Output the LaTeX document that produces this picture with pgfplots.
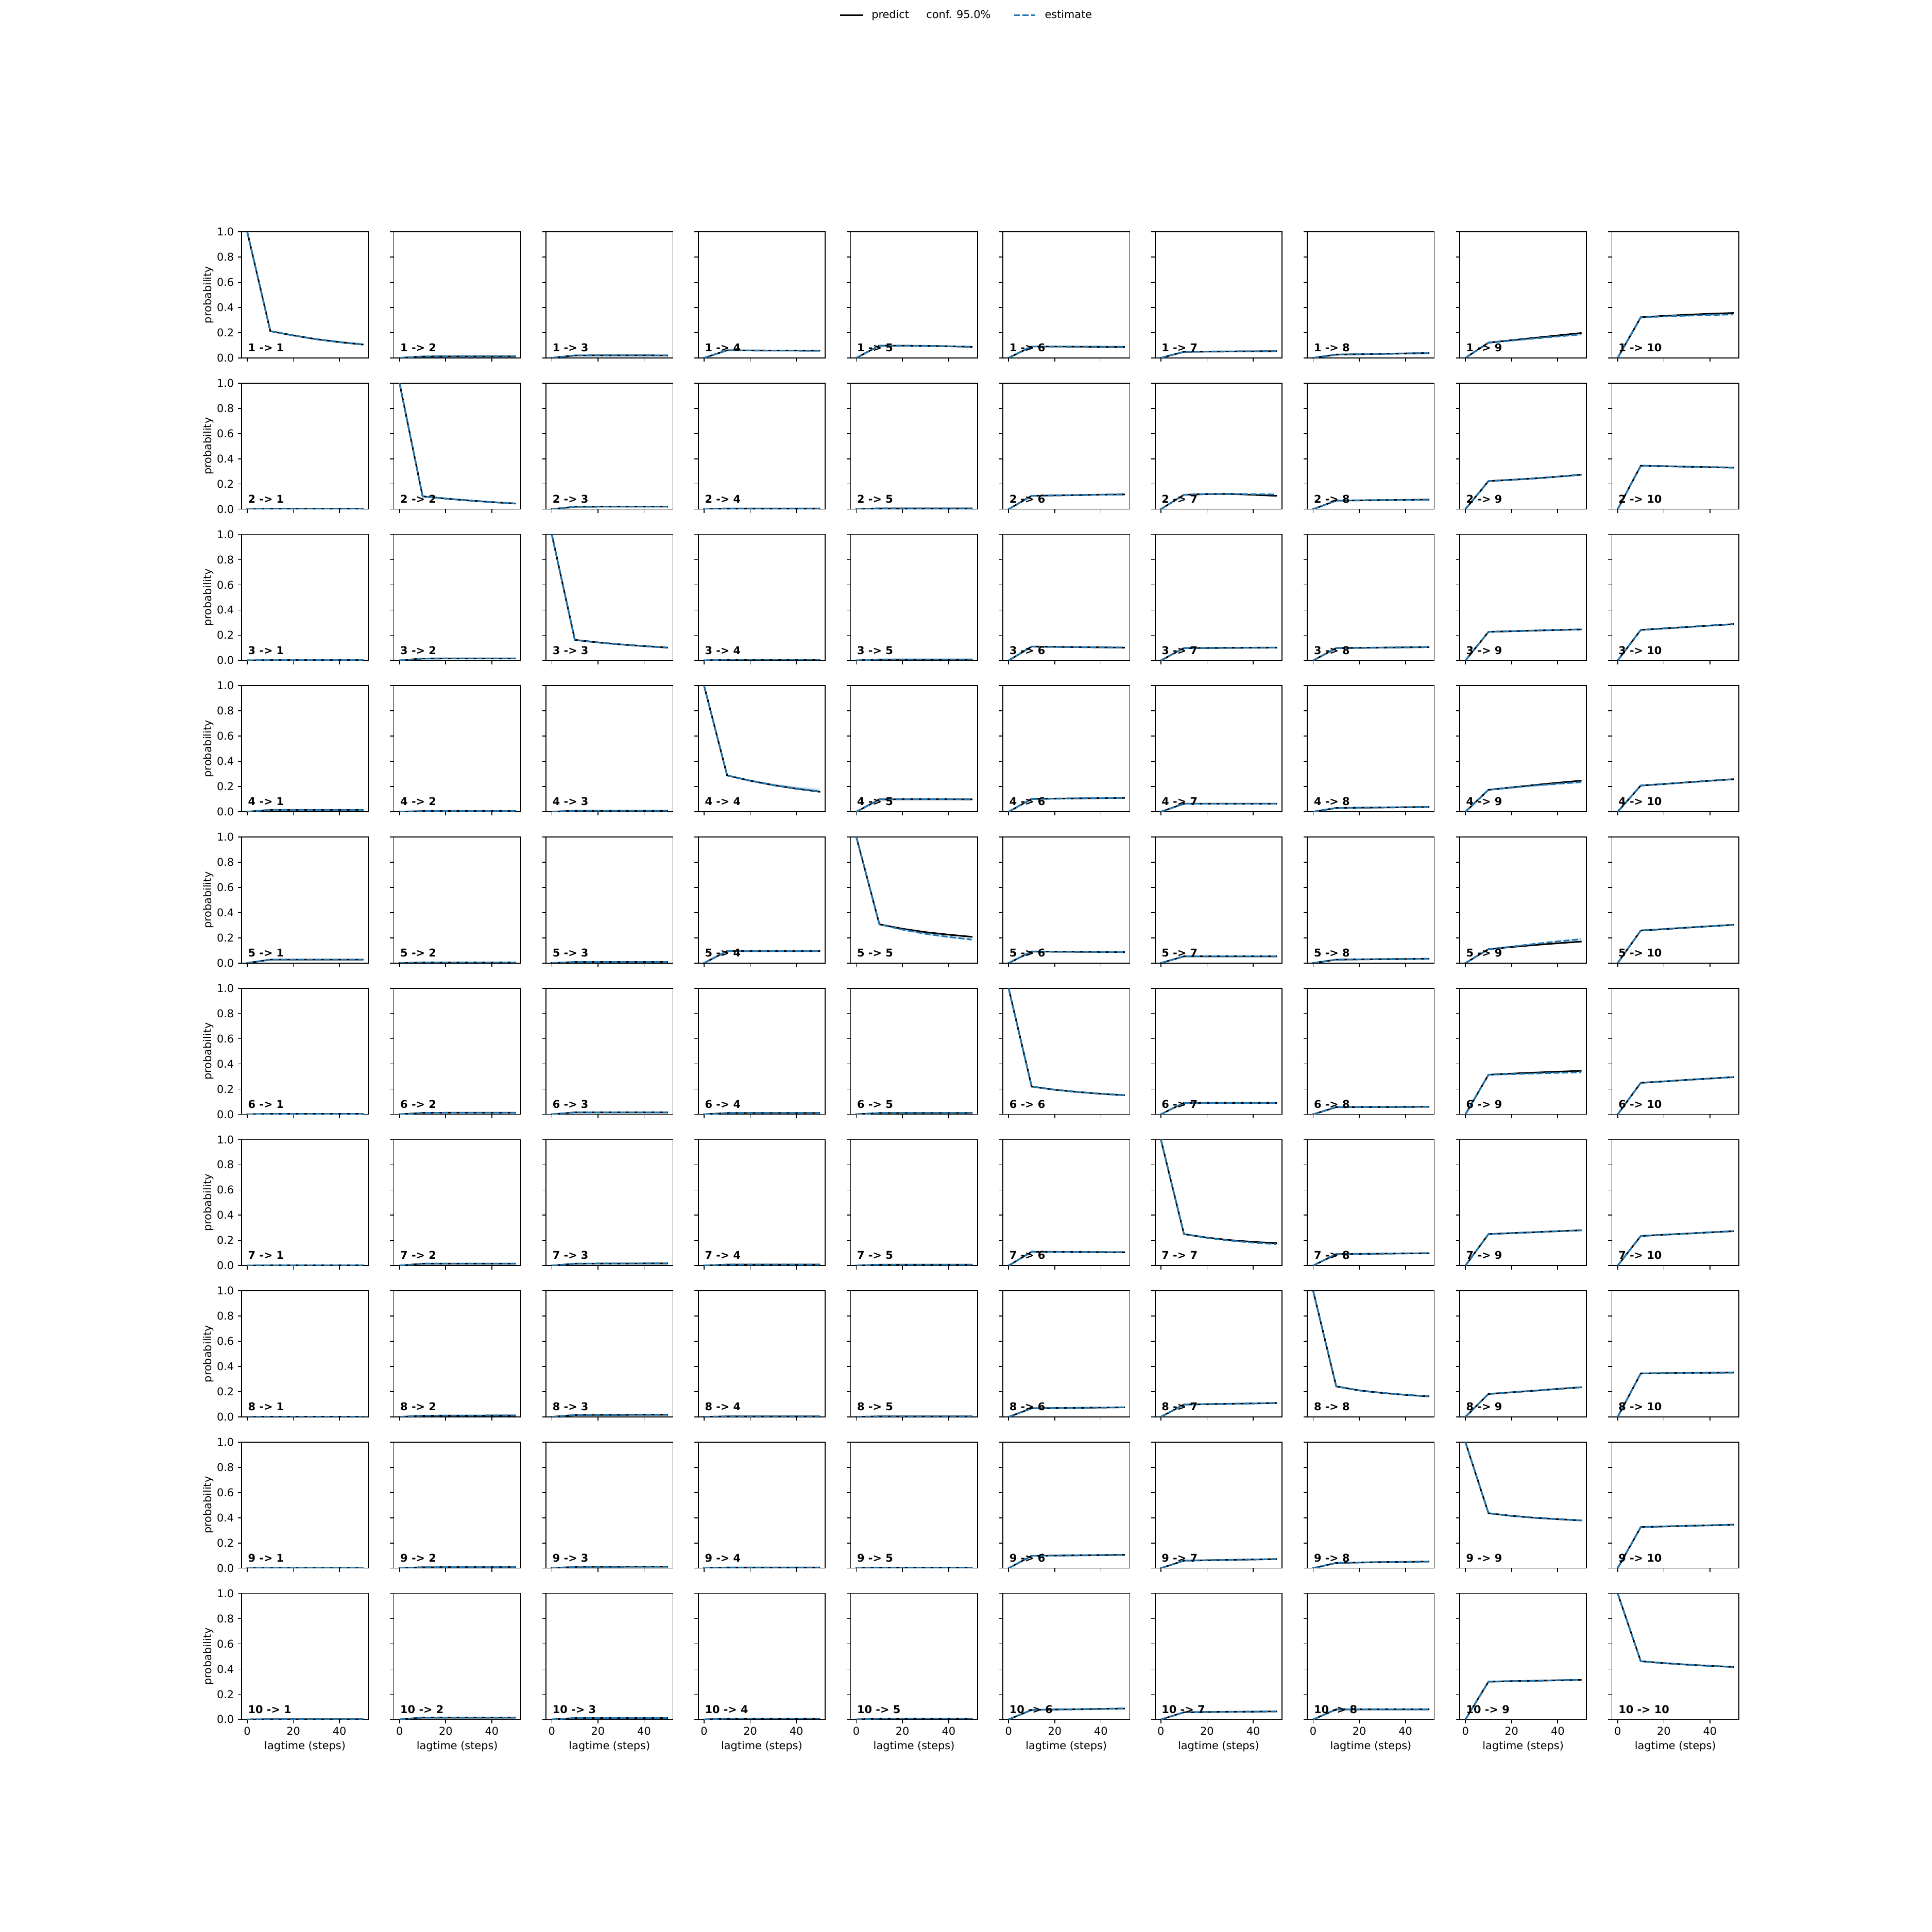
\documentclass[border=0pt]{standalone}
\usepackage{pgfplots}
\pgfplotsset{compat=1.18}
\usepackage{fontspec}
\setmainfont{DejaVu Sans}
\definecolor{c0}{HTML}{1F77B4}
\pgfplotsset{
  cell/.style={
    width=118.22bp, height=117.46bp, scale only axis, anchor=south west,
    xmin=-2.5, xmax=52.5, ymin=0, ymax=1,
    xtick={0,20,40}, ytick={0,0.2,0.4,0.6,0.8,1},
    tick align=outside, tick pos=left,
    major tick length=3.5bp,
    every tick/.style={black, line width=0.8bp},
    axis line style={line width=0.8bp},
    no markers,
    ticklabel style={font=\fontsize{10bp}{12bp}\selectfont},
    yticklabel style={/pgf/number format/fixed, /pgf/number format/fixed zerofill, /pgf/number format/precision=1},
    /pgf/number format/assume math mode=true,
    label style={font=\fontsize{10bp}{12bp}\selectfont},
    every axis y label/.style={at={(rel axis cs:-0.2622,0.5)}, rotate=90, anchor=center},
    every axis x label/.style={at={(rel axis cs:0.5,-0.2137)}, anchor=center},
  },
  panelpos/.code 2 args={%
    \pgfkeysalso{at={({225bp+(#2-1)*141.864bp},{198bp+(10-#1)*140.949bp})}}%
    \ifnum#2=1\relax\pgfkeysalso{ylabel={probability}}\else\pgfkeysalso{yticklabels={}}\fi
    \ifnum#1=10\relax\pgfkeysalso{xlabel={lagtime (steps)}}\else\pgfkeysalso{xticklabels={}}\fi
  },
  pred/.style={black, line width=1.5bp, line cap=rect},
  est/.style={c0, line width=1.5bp, dash pattern=on 5.55bp off 2.4bp},
  band/.style={fill=c0, fill opacity=0.2, draw=none},
}
\tikzset{lbl/.style={anchor=base west, inner sep=0pt, font=\bfseries\fontsize{10bp}{12bp}\selectfont}}
\newcommand{\panel}[5][]{%
\begin{axis}[cell, panelpos={#2}{#3}]
#1
\addplot[pred] coordinates {#4};
\if\relax\detokenize{#5}\relax\addplot[est] coordinates {#4};\else\addplot[est] coordinates {#5};\fi
\node[lbl] at (rel axis cs:0.05,0.05) {#2 -> #3};
\end{axis}}
\begin{document}
\fontsize{10bp}{12bp}\selectfont
\begin{tikzpicture}
\useasboundingbox (0,0) rectangle (1800bp,1800bp);
% ---- row 1
\panel[{\addplot[band] coordinates {(0,1)(10,.216)(20,.183)(30,.155)(40,.134)(50,.119)(50,.101)(40,.121)(30,.144)(20,.174)(10,.208)(0,1)};}]{1}{1}{(0,1)(10,.212)(20,.178)(30,.148)(40,.125)(50,.106)}{}
\panel{1}{2}{(0,0)(10,.011)(20,.012)(30,.012)(40,.012)(50,.012)}{}
\panel{1}{3}{(0,0)(10,.019)(20,.020)(30,.020)(40,.020)(50,.019)}{}
\panel{1}{4}{(0,0)(10,.060)(20,.059)(30,.058)(40,.058)(50,.057)}{}
\panel{1}{5}{(0,0)(10,.097)(20,.097)(30,.095)(40,.092)(50,.088)}{}
\panel{1}{6}{(0,0)(10,.091)(20,.090)(30,.089)(40,.088)(50,.087)}{(0,0)(10,.091)(20,.090)(30,.090)(40,.089)(50,.089)}
\panel{1}{7}{(0,0)(10,.048)(20,.050)(30,.051)(40,.052)(50,.053)}{}
\panel{1}{8}{(0,0)(10,.026)(20,.029)(30,.032)(40,.035)(50,.038)}{}
\panel[{\addplot[band] coordinates {(0,0)(10,.124)(20,.143)(30,.162)(40,.181)(50,.198)(50,.178)(40,.165)(30,.151)(20,.135)(10,.118)(0,0)};}]{1}{9}{(0,0)(10,.121)(20,.140)(30,.159)(40,.178)(50,.197)}{(0,0)(10,.120)(20,.137)(30,.154)(40,.170)(50,.186)}
\panel[{\addplot[band] coordinates {(0,0)(10,.325)(20,.336)(30,.345)(40,.353)(50,.360)(50,.338)(40,.334)(30,.329)(20,.324)(10,.317)(0,0)};}]{1}{10}{(0,0)(10,.322)(20,.333)(30,.342)(40,.350)(50,.356)}{(0,0)(10,.320)(20,.329)(30,.335)(40,.340)(50,.345)}
% ---- row 2
\panel{2}{1}{(0,0)(10,.003)(20,.003)(30,.003)(40,.003)(50,.003)}{}
\panel{2}{2}{(0,1)(10,.102)(20,.084)(30,.069)(40,.056)(50,.045)}{}
\panel{2}{3}{(0,0)(10,.019)(20,.020)(30,.020)(40,.020)(50,.020)}{}
\panel{2}{4}{(0,0)(10,.005)(20,.005)(30,.005)(40,.005)(50,.005)}{}
\panel{2}{5}{(0,0)(10,.006)(20,.006)(30,.006)(40,.006)(50,.006)}{}
\panel{2}{6}{(0,0)(10,.106)(20,.109)(30,.112)(40,.115)(50,.117)}{}
\panel{2}{7}{(0,0)(10,.114)(20,.120)(30,.121)(40,.114)(50,.106)}{(0,0)(10,.114)(20,.120)(30,.121)(40,.119)(50,.117)}
\panel{2}{8}{(0,0)(10,.068)(20,.070)(30,.072)(40,.074)(50,.076)}{}
\panel{2}{9}{(0,0)(10,.223)(20,.233)(30,.244)(40,.258)(50,.273)}{}
\panel{2}{10}{(0,0)(10,.345)(20,.341)(30,.337)(40,.333)(50,.330)}{}
% ---- row 3
\panel{3}{1}{(0,0)(10,.003)(20,.003)(30,.003)(40,.003)(50,.003)}{}
\panel{3}{2}{(0,0)(10,.015)(20,.016)(30,.016)(40,.016)(50,.016)}{}
\panel{3}{3}{(0,1)(10,.163)(20,.143)(30,.127)(40,.114)(50,.102)}{}
\panel{3}{4}{(0,0)(10,.007)(20,.007)(30,.007)(40,.007)(50,.007)}{}
\panel{3}{5}{(0,0)(10,.008)(20,.008)(30,.008)(40,.008)(50,.008)}{}
\panel{3}{6}{(0,0)(10,.110)(20,.108)(30,.106)(40,.104)(50,.102)}{}
\panel{3}{7}{(0,0)(10,.098)(20,.099)(30,.100)(40,.101)(50,.102)}{}
\panel{3}{8}{(0,0)(10,.098)(20,.100)(30,.102)(40,.104)(50,.106)}{}
\panel{3}{9}{(0,0)(10,.227)(20,.232)(30,.237)(40,.242)(50,.246)}{}
\panel{3}{10}{(0,0)(10,.242)(20,.254)(30,.265)(40,.277)(50,.288)}{}
% ---- row 4
\panel{4}{1}{(0,0)(10,.015)(20,.015)(30,.015)(40,.015)(50,.015)}{}
\panel{4}{2}{(0,0)(10,.005)(20,.005)(30,.005)(40,.005)(50,.005)}{}
\panel{4}{3}{(0,0)(10,.008)(20,.008)(30,.008)(40,.008)(50,.008)}{}
\panel[{\addplot[band] coordinates {(0,1)(10,.292)(20,.255)(30,.224)(40,.200)(50,.184)(50,.155)(40,.180)(30,.207)(20,.242)(10,.284)(0,1)};}]{4}{4}{(0,1)(10,.288)(20,.246)(30,.211)(40,.183)(50,.159)}{(0,1)(10,.288)(20,.247)(30,.212)(40,.185)(50,.162)}
\panel{4}{5}{(0,0)(10,.098)(20,.099)(30,.099)(40,.099)(50,.098)}{}
\panel{4}{6}{(0,0)(10,.102)(20,.104)(30,.106)(40,.108)(50,.110)}{}
\panel{4}{7}{(0,0)(10,.064)(20,.064)(30,.064)(40,.064)(50,.064)}{}
\panel{4}{8}{(0,0)(10,.030)(20,.032)(30,.034)(40,.036)(50,.038)}{}
\panel[{\addplot[band] coordinates {(0,0)(10,.177)(20,.196)(30,.214)(40,.230)(50,.244)(50,.226)(40,.214)(30,.200)(20,.186)(10,.171)(0,0)};}]{4}{9}{(0,0)(10,.174)(20,.193)(30,.212)(40,.230)(50,.246)}{(0,0)(10,.174)(20,.191)(30,.208)(40,.222)(50,.235)}
\panel{4}{10}{(0,0)(10,.208)(20,.220)(30,.233)(40,.246)(50,.258)}{}
% ---- row 5
\panel{5}{1}{(0,0)(10,.027)(20,.027)(30,.027)(40,.027)(50,.027)}{}
\panel{5}{2}{(0,0)(10,.004)(20,.004)(30,.004)(40,.004)(50,.004)}{}
\panel{5}{3}{(0,0)(10,.008)(20,.008)(30,.008)(40,.008)(50,.008)}{}
\panel{5}{4}{(0,0)(10,.095)(20,.095)(30,.095)(40,.095)(50,.095)}{}
\panel[{\addplot[band] coordinates {(0,1)(10,.311)(20,.272)(30,.241)(40,.217)(50,.197)(50,.177)(40,.198)(30,.224)(20,.258)(10,.303)(0,1)};}]{5}{5}{(0,1)(10,.307)(20,.272)(30,.245)(40,.225)(50,.208)}{(0,1)(10,.307)(20,.265)(30,.232)(40,.207)(50,.186)}
\panel{5}{6}{(0,0)(10,.091)(20,.090)(30,.089)(40,.088)(50,.087)}{}
\panel{5}{7}{(0,0)(10,.053)(20,.053)(30,.053)(40,.053)(50,.053)}{}
\panel{5}{8}{(0,0)(10,.027)(20,.029)(30,.031)(40,.032)(50,.034)}{}
\panel[{\addplot[band] coordinates {(0,0)(10,.113)(20,.134)(30,.157)(40,.178)(50,.197)(50,.180)(40,.165)(30,.147)(20,.126)(10,.107)(0,0)};}]{5}{9}{(0,0)(10,.110)(20,.127)(30,.143)(40,.157)(50,.170)}{(0,0)(10,.110)(20,.130)(30,.152)(40,.172)(50,.189)}
\panel{5}{10}{(0,0)(10,.258)(20,.269)(30,.281)(40,.292)(50,.303)}{}
% ---- row 6
\panel{6}{1}{(0,0)(10,.003)(20,.003)(30,.003)(40,.003)(50,.003)}{}
\panel{6}{2}{(0,0)(10,.011)(20,.012)(30,.012)(40,.012)(50,.012)}{}
\panel{6}{3}{(0,0)(10,.015)(20,.015)(30,.015)(40,.015)(50,.015)}{}
\panel{6}{4}{(0,0)(10,.010)(20,.010)(30,.010)(40,.010)(50,.010)}{}
\panel{6}{5}{(0,0)(10,.010)(20,.010)(30,.010)(40,.010)(50,.010)}{}
\panel{6}{6}{(0,1)(10,.220)(20,.195)(30,.177)(40,.163)(50,.152)}{}
\panel{6}{7}{(0,0)(10,.091)(20,.091)(30,.091)(40,.091)(50,.091)}{}
\panel{6}{8}{(0,0)(10,.057)(20,.058)(30,.058)(40,.059)(50,.060)}{}
\panel{6}{9}{(0,0)(10,.314)(20,.323)(30,.331)(40,.338)(50,.345)}{(0,0)(10,.314)(20,.319)(30,.324)(40,.329)(50,.333)}
\panel{6}{10}{(0,0)(10,.250)(20,.261)(30,.273)(40,.284)(50,.295)}{}
% ---- row 7
\panel{7}{1}{(0,0)(10,.002)(20,.002)(30,.002)(40,.002)(50,.002)}{}
\panel{7}{2}{(0,0)(10,.015)(20,.015)(30,.015)(40,.015)(50,.015)}{}
\panel{7}{3}{(0,0)(10,.015)(20,.016)(30,.016)(40,.017)(50,.017)}{}
\panel{7}{4}{(0,0)(10,.008)(20,.008)(30,.008)(40,.008)(50,.008)}{}
\panel{7}{5}{(0,0)(10,.007)(20,.007)(30,.007)(40,.007)(50,.007)}{}
\panel{7}{6}{(0,0)(10,.110)(20,.109)(30,.108)(40,.107)(50,.106)}{}
\panel{7}{7}{(0,1)(10,.250)(20,.222)(30,.202)(40,.188)(50,.178)}{(0,1)(10,.250)(20,.220)(30,.198)(40,.182)(50,.170)}
\panel{7}{8}{(0,0)(10,.091)(20,.093)(30,.095)(40,.097)(50,.098)}{}
\panel{7}{9}{(0,0)(10,.250)(20,.258)(30,.265)(40,.273)(50,.280)}{}
\panel{7}{10}{(0,0)(10,.235)(20,.245)(30,.254)(40,.264)(50,.273)}{}
% ---- row 8
\panel{8}{1}{(0,0)(10,.001)(20,.001)(30,.001)(40,.001)(50,.001)}{}
\panel{8}{2}{(0,0)(10,.009)(20,.010)(30,.010)(40,.011)(50,.011)}{}
\panel{8}{3}{(0,0)(10,.015)(20,.016)(30,.016)(40,.017)(50,.017)}{}
\panel{8}{4}{(0,0)(10,.004)(20,.004)(30,.004)(40,.004)(50,.004)}{}
\panel{8}{5}{(0,0)(10,.004)(20,.004)(30,.004)(40,.004)(50,.004)}{}
\panel{8}{6}{(0,0)(10,.068)(20,.070)(30,.072)(40,.074)(50,.076)}{}
\panel{8}{7}{(0,0)(10,.098)(20,.101)(30,.104)(40,.107)(50,.110)}{}
\panel{8}{8}{(0,1)(10,.242)(20,.210)(30,.190)(40,.175)(50,.163)}{}
\panel{8}{9}{(0,0)(10,.182)(20,.195)(30,.208)(40,.222)(50,.235)}{}
\panel{8}{10}{(0,0)(10,.345)(20,.347)(30,.349)(40,.350)(50,.352)}{}
% ---- row 9
\panel{9}{1}{(0,0)(10,.001)(20,.001)(30,.001)(40,.001)(50,.001)}{}
\panel{9}{2}{(0,0)(10,.007)(20,.008)(30,.009)(40,.009)(50,.010)}{}
\panel{9}{3}{(0,0)(10,.010)(20,.011)(30,.011)(40,.012)(50,.012)}{}
\panel{9}{4}{(0,0)(10,.005)(20,.005)(30,.005)(40,.005)(50,.005)}{}
\panel{9}{5}{(0,0)(10,.004)(20,.004)(30,.004)(40,.004)(50,.004)}{}
\panel{9}{6}{(0,0)(10,.098)(20,.100)(30,.102)(40,.104)(50,.106)}{}
\panel{9}{7}{(0,0)(10,.060)(20,.063)(30,.066)(40,.069)(50,.072)}{}
\panel{9}{8}{(0,0)(10,.042)(20,.045)(30,.048)(40,.050)(50,.053)}{}
\panel{9}{9}{(0,1)(10,.436)(20,.415)(30,.400)(40,.389)(50,.379)}{}
\panel{9}{10}{(0,0)(10,.326)(20,.331)(30,.336)(40,.340)(50,.345)}{}
% ---- row 10
\panel{10}{1}{(0,0)(10,.002)(20,.002)(30,.002)(40,.002)(50,.002)}{}
\panel{10}{2}{(0,0)(10,.015)(20,.015)(30,.015)(40,.015)(50,.015)}{}
\panel{10}{3}{(0,0)(10,.011)(20,.012)(30,.012)(40,.012)(50,.012)}{}
\panel{10}{4}{(0,0)(10,.007)(20,.007)(30,.007)(40,.007)(50,.007)}{}
\panel{10}{5}{(0,0)(10,.007)(20,.007)(30,.007)(40,.007)(50,.007)}{}
\panel{10}{6}{(0,0)(10,.076)(20,.079)(30,.081)(40,.084)(50,.087)}{}
\panel{10}{7}{(0,0)(10,.057)(20,.059)(30,.061)(40,.062)(50,.064)}{}
\panel{10}{8}{(0,0)(10,.080)(20,.080)(30,.080)(40,.080)(50,.080)}{}
\panel{10}{9}{(0,0)(10,.300)(20,.304)(30,.307)(40,.311)(50,.314)}{}
\panel{10}{10}{(0,1)(10,.462)(20,.447)(30,.435)(40,.425)(50,.417)}{}
% ---- legend
\begin{axis}[at={(0bp,0bp)}, anchor=south west, width=1800bp, height=1800bp, scale only axis, hide axis,
  xmin=0, xmax=1, ymin=0, ymax=1,
  legend columns=3, legend cell align=left,
  legend style={at={(0.5,1)}, anchor=north, draw=none, fill=none, yshift=-7.5bp,
    font=\fontsize{10bp}{12bp}\selectfont,
    nodes={inner sep=0pt},
    /tikz/column 1/.style={column sep=8bp},
    /tikz/column 2/.style={column sep=8bp},
    /tikz/column 3/.style={column sep=8bp},
    /tikz/column 4/.style={column sep=21bp},
    /tikz/column 5/.style={column sep=8bp}},
  legend image code/.code={\draw[#1] (0bp,0bp) -- (20bp,0bp);}]
\addlegendimage{pred}
\addlegendentry{predict}
\addlegendimage{empty legend}
\addlegendentry{conf. 95.0\%}
\addlegendimage{est}
\addlegendentry{estimate}
\end{axis}
\end{tikzpicture}
\end{document}
